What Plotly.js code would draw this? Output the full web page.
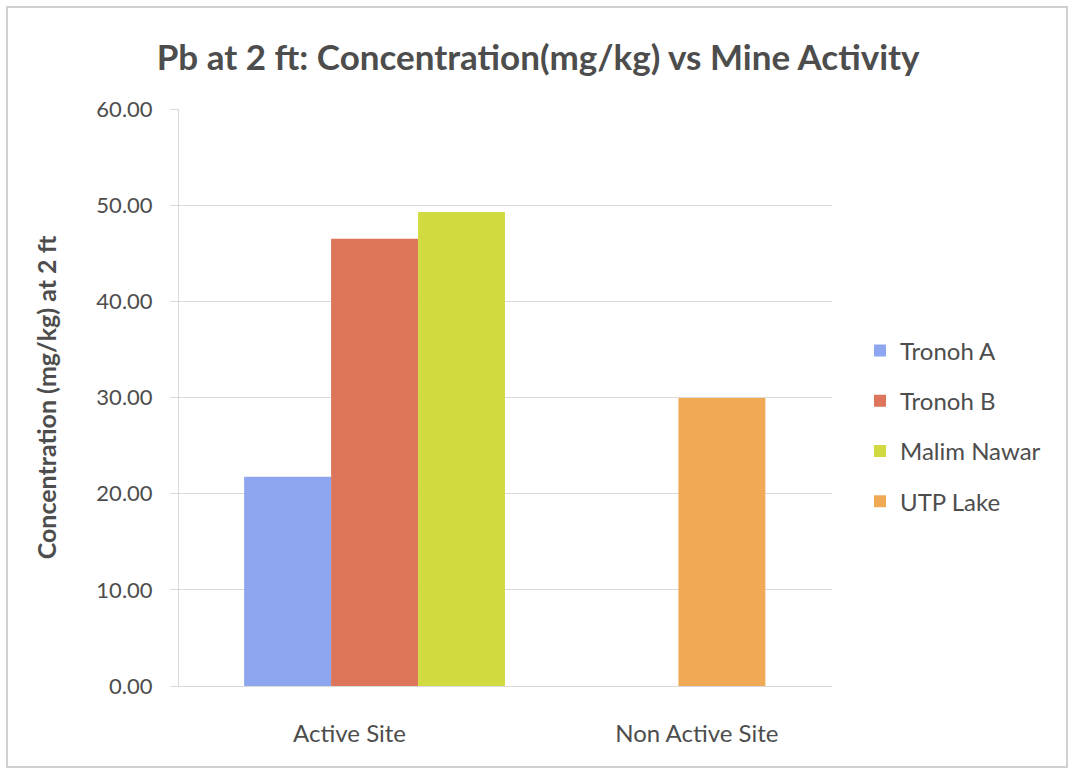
<!DOCTYPE html>
<html>
<head>
<meta charset="utf-8">
<script src="https://cdn.plot.ly/plotly-3.0.1.min.js"></script>
<style>
  html, body { margin: 0; padding: 0; background: #ffffff; }
  #chart { width: 1072px; height: 773px; }
</style>
</head>
<body>
<div id="chart"></div>
<script>
// Pb concentration at 2 ft depth, grouped by mine activity
const categories = ['Active Site', 'Non Active Site'];
const seriesNames = ['Tronoh A', 'Tronoh B', 'Malim Nawar', 'UTP Lake'];
const tronohA = [21.75, null];
const tronohB = [46.5, null];
const malimNawar = [49.3, null];
const utpLake = [null, 29.95];
const yTicks = [0, 10, 20, 30, 40, 50, 60];

const seriesValues = [tronohA, tronohB, malimNawar, utpLake];
const colors = ['#8ea5ef', '#dc7559', '#d2da41', '#f0aa56'];
// UTP Lake shares the centre slot so it sits in the middle of its category
const slots = ['a', 'b', 'c', 'b'];

const fontFamily = 'Lato, "Open Sans", "Noto Sans", sans-serif';
const textColor = '#4d4d4d';

const traces = seriesValues.map((vals, i) => ({
  type: 'bar',
  name: seriesNames[i],
  x: categories,
  y: vals,
  offsetgroup: slots[i],
  legendgroup: 'g' + i,
  marker: { color: colors[i], line: { width: 0 } },
  hoverinfo: 'x+y+name'
}));

const margin = { l: 179, r: 240, t: 109, b: 87 };
const W = 1072, H = 773;
const pw = W - margin.l - margin.r;
const ph = H - margin.t - margin.b;
// outer chart frame, expressed in paper units
const frame = { x0: 7, x1: 1067, y0: 7, y1: 767 };

const layout = {
  width: W,
  height: H,
  margin: margin,
  paper_bgcolor: '#ffffff',
  plot_bgcolor: '#ffffff',
  barmode: 'group',
  bargap: 0.249,
  bargroupgap: 0,
  font: { family: fontFamily, color: textColor, size: 22 },
  title: {
    text: '<b>Pb at 2 ft: Concentration(mg/kg) vs Mine Activity</b>',
    font: { family: fontFamily, size: 35, color: '#4d4d4d' },
    x: 0.502,
    xanchor: 'center',
    y: 1 - 58 / H,
    yanchor: 'middle'
  },
  xaxis: {
    type: 'category',
    range: [-0.563, 1.317],
    showgrid: false,
    showline: true,
    linecolor: '#d9d9d9',
    linewidth: 1,
    ticks: '',
    ticklabelshift: -25,
    ticklabelstandoff: 26,
    tickfont: { size: 24, color: textColor }
  },
  yaxis: {
    range: [0, 60],
    tickvals: yTicks,
    ticktext: yTicks.map(v => v.toFixed(2)),
    showgrid: true,
    gridcolor: '#d9d9d9',
    gridwidth: 1,
    zeroline: false,
    showline: true,
    linecolor: '#d9d9d9',
    ticks: 'outside',
    ticklen: 8,
    tickcolor: '#d9d9d9',
    ticklabelstandoff: 13,
    tickfont: { size: 22, color: textColor },
    title: {
      text: '<b>Concentration (mg/kg) at 2 ft</b>',
      font: { family: fontFamily, size: 25, color: textColor },
      standoff: 32
    }
  },
  legend: {
    x: 1 + (860 - (margin.l + pw)) / pw,
    xanchor: 'left',
    y: 0.5 + (686 - 426 - ph / 2) / ph,
    yanchor: 'middle',
    traceorder: 'grouped',
    tracegroupgap: 16,
    font: { size: 24, color: textColor },
    bgcolor: 'rgba(0,0,0,0)'
  },
  shapes: [{
    type: 'rect',
    xref: 'paper', yref: 'paper',
    x0: (frame.x0 - margin.l) / pw,
    x1: (frame.x1 - margin.l) / pw,
    y0: (H - margin.b - frame.y1) / ph,
    y1: (H - margin.b - frame.y0) / ph,
    line: { color: '#d0d0d0', width: 2 },
    fillcolor: 'rgba(0,0,0,0)',
    layer: 'below'
  }]
};

Plotly.newPlot('chart', traces, layout, { displayModeBar: false, staticPlot: true });
</script>
</body>
</html>
